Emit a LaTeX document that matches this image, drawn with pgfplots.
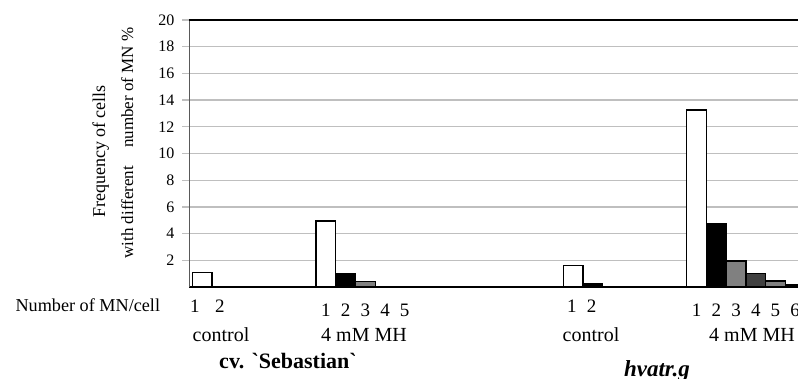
\documentclass[border=0pt]{standalone}
\usepackage{fontspec}
\setmainfont{Liberation Serif}
\usepackage{pgfplots}
\pgfplotsset{compat=1.18}
\definecolor{gridgray}{HTML}{BFBFBF}
\definecolor{midgray}{HTML}{808080}
\definecolor{dkgray}{HTML}{404040}
\definecolor{axgray}{HTML}{595959}
\begin{document}
\begin{tikzpicture}
\begin{axis}[
  at={(189pt,91pt)}, anchor=south west,
  scale only axis, width=609pt, height=267pt,
  xmin=0, xmax=30.914, ymin=0, ymax=20,
  axis lines=left, axis line style={-},
  x axis line style={black, line width=1.5pt},
  y axis line style={axgray, line width=1pt},
  ytick={2,4,...,20},
  ymajorgrids, major grid style={gridgray, line width=1.3pt},
  y tick style={gridgray, line width=1.3pt},
  tick align=outside, major tick length=7pt,
  x tick style={draw=none},
  /pgf/number format/assume math mode=true,
  yticklabel style={font=\fontsize{16}{16}\selectfont, xshift=-4pt},
  xtick={6.95,7.95,8.95,9.95,10.95,25.77,26.77,27.77,28.77,29.77,30.77},
  xticklabels={1,2,3,4,5,1,2,3,4,5,6},
  xticklabel style={font=\fontsize{19}{19}\selectfont, anchor=base, yshift=-22.7pt},
  extra x ticks={0.30,1.57,19.43,20.44},
  extra x tick labels={1,2,1,2},
  extra x tick style={xticklabel style={yshift=4pt}},
]
\addplot[ybar, bar width=1, bar shift=0pt, fill=white, draw=black, line width=1.3pt]
  coordinates {(0.66,1.1) (6.95,4.95) (19.5,1.6) (25.77,13.25)};
\addplot[ybar, bar width=1, bar shift=0pt, fill=black, draw=black, line width=1.3pt]
  coordinates {(1.66,0.05) (7.95,1.03) (20.5,0.28) (26.77,4.72) (30.77,0.17)};
\addplot[ybar, bar width=1, bar shift=0pt, fill=midgray, draw=black, line width=1.3pt]
  coordinates {(8.95,0.4) (27.77,1.95) (10.95,0.05) (29.77,0.45)};
\addplot[ybar, bar width=1, bar shift=0pt, fill=dkgray, draw=black, line width=1.3pt]
  coordinates {(9.95,0.05) (28.77,1.03)};
\draw[black, line width=1.5pt] (rel axis cs:0,1) -- (rel axis cs:1,1);
\end{axis}
\node[anchor=base west, font=\fontsize{18.2}{18}\selectfont] at (12pt,66.3pt) {Number of MN/cell};
\node[anchor=base, font=\fontsize{20}{20}\selectfont] at (221pt,36.3pt) {control};
\node[anchor=base, font=\fontsize{20}{20}\selectfont] at (364pt,36.3pt) {4 mM MH};
\node[anchor=base, font=\fontsize{20}{20}\selectfont] at (591pt,36.3pt) {control};
\node[anchor=base, font=\fontsize{20}{20}\selectfont] at (752pt,36.3pt) {4 mM MH};
\node[anchor=base, font=\fontsize{22}{22}\selectfont\bfseries] at (288pt,10pt) {cv. \textasciigrave Sebastian\textasciigrave};
\node[anchor=base, font=\fontsize{23}{23}\selectfont\bfseries\itshape] at (657pt,1.5pt) {hvatr.g};
\node[anchor=base, rotate=90, font=\fontsize{18}{18}\selectfont] at (105pt,226.5pt) {Frequency of cells};
\node[anchor=base, rotate=90, font=\fontsize{17}{17}\selectfont] at (133pt,235pt) {with different\hspace{18pt}number of MN \%};
\pgfresetboundingbox
\path[use as bounding box] (0pt,0pt) rectangle (798pt,378pt);
\end{tikzpicture}
\end{document}
